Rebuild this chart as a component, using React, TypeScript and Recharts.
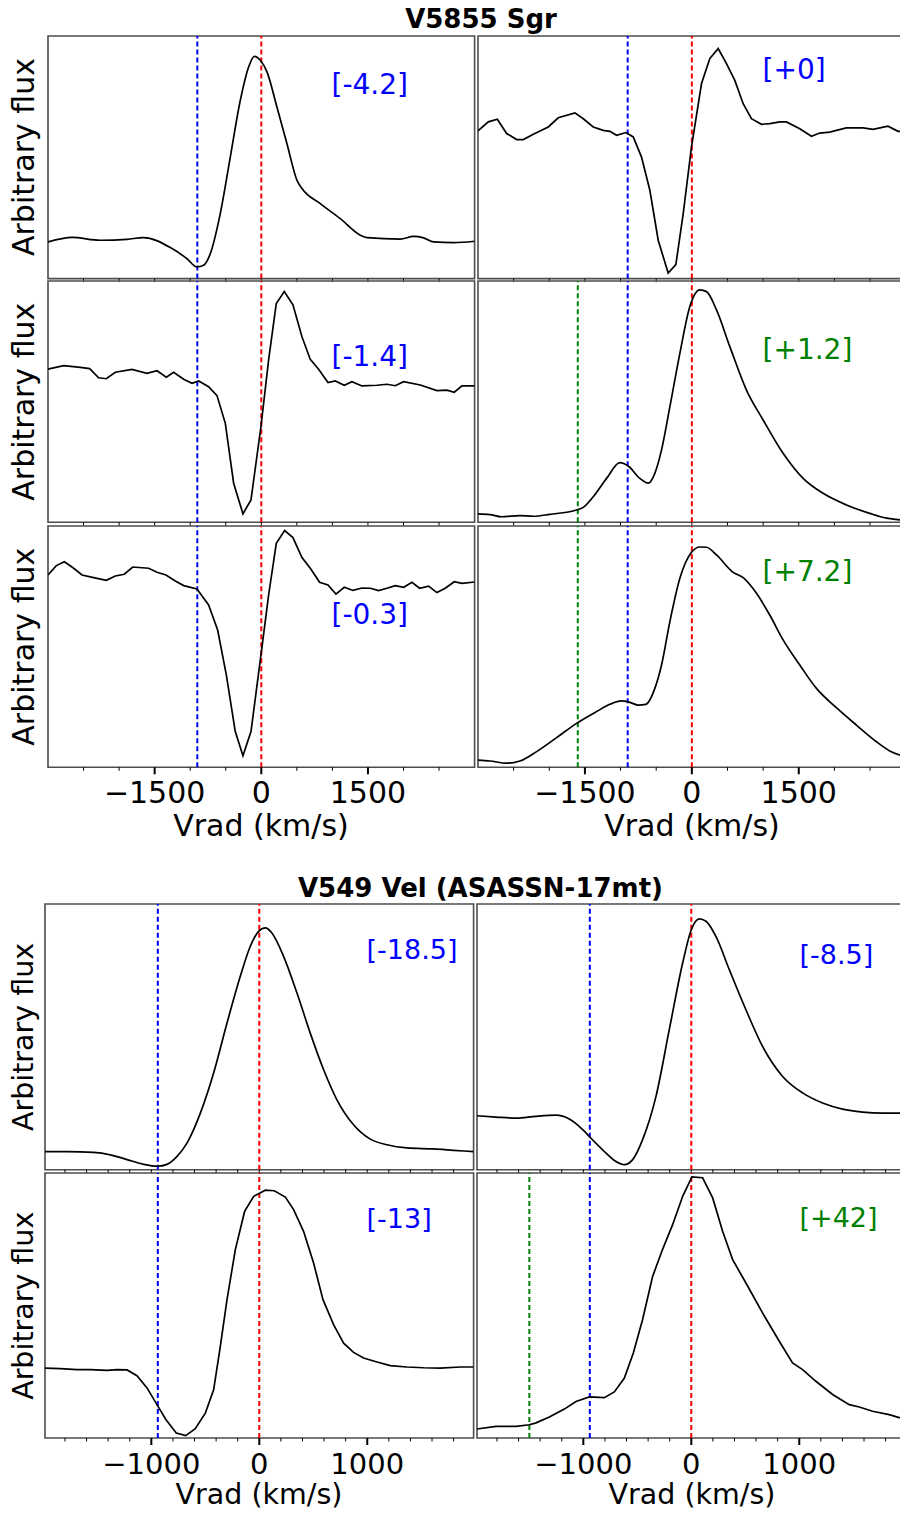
import React from 'react';
import { LineChart, Line, XAxis, YAxis, ReferenceLine, ReferenceArea } from 'recharts';

// ---- V5855 Sgr (velocity km/s, flux in % of panel range) ----
const velA = [-3000, -2663, -2264, -1889, -1655, -1280, -1045, -905, -811, -717, -577, -436, -295, -178, -98, -14, 80, 220, 361, 502, 572, 830, 1111, 1392, 1486, 1955, 2142, 2283, 2423, 2705, 3000];
const fluxA = [15.1, 17.0, 15.8, 16.2, 16.9, 12.8, 8.2, 4.8, 5.5, 10.3, 26.8, 50.1, 73.5, 87.2, 91.6, 90.0, 85.2, 70.7, 55.6, 40.5, 37.1, 30.9, 24.7, 17.9, 16.9, 16.3, 17.4, 16.8, 15.1, 14.8, 15.4];

const velB = [-3000, -2855, -2729, -2598, -2458, -2364, -2224, -2014, -1874, -1640, -1523, -1383, -1243, -1150, -1056, -925, -822, -706, -589, -472, -332, -224, -121, -5, 136, 252, 369, 486, 603, 720, 836, 977, 1093, 1234, 1327, 1514, 1678, 1794, 1935, 2028, 2168, 2402, 2542, 2752, 2893, 3000];
const fluxB = [60.9, 64.6, 65.7, 59.8, 57.3, 57.3, 59.5, 62.5, 66.3, 68.3, 65.9, 62.5, 61.1, 60.7, 59.1, 60.2, 58.4, 50.1, 36.4, 15.8, 2.3, 5.8, 26.8, 54.3, 80.4, 90.7, 94.8, 88.6, 81.7, 72.1, 65.9, 63.6, 63.9, 64.6, 64.6, 61.8, 58.7, 60.0, 60.4, 61.1, 62.1, 62.1, 61.5, 62.8, 60.7, 60.5];

const velC = [-3000, -2780, -2545, -2414, -2288, -2180, -2053, -1819, -1608, -1467, -1336, -1233, -1092, -975, -881, -741, -623, -506, -389, -258, -145, -5, 103, 211, 323, 445, 572, 689, 806, 938, 1041, 1167, 1275, 1416, 1627, 1767, 1884, 2002, 2236, 2470, 2611, 2714, 2822, 3000];
const fluxC = [63.5, 64.9, 64.2, 63.7, 59.9, 59.5, 62.2, 63.4, 61.7, 62.8, 60.1, 62.2, 59.3, 57.6, 58.6, 56.2, 52.5, 41.0, 16.2, 3.5, 9.3, 39.6, 67.3, 90.7, 95.6, 90.1, 76.9, 67.5, 63.4, 57.9, 58.6, 56.8, 58.3, 56.5, 56.8, 57.2, 56.6, 58.3, 56.9, 54.6, 54.8, 53.9, 56.5, 56.5];

const velD = [-3000, -2832, -2668, -2411, -2224, -1991, -1617, -1523, -1383, -1196, -1009, -893, -729, -612, -519, -425, -308, -168, -28, 112, 206, 346, 533, 766, 1000, 1280, 1561, 1841, 2168, 2495, 2729, 2916, 3000];
const fluxD = [3.5, 3.2, 2.3, 2.8, 2.5, 3.3, 5.1, 6.2, 10.6, 18.2, 24.7, 23.3, 18.2, 16.2, 20.3, 30.0, 47.9, 70.0, 89.4, 96.3, 95.6, 88.0, 72.8, 54.8, 42.4, 28.6, 18.2, 12.0, 7.2, 3.7, 1.7, 1.0, 0.7];

const velE = [-3000, -2883, -2770, -2648, -2522, -2358, -2180, -2053, -1927, -1809, -1584, -1467, -1341, -1209, -1092, -905, -741, -614, -492, -366, -258, -145, -5, 103, 211, 328, 445, 572, 689, 820, 938, 1050, 1167, 1289, 1416, 1533, 1650, 1767, 1884, 2002, 2119, 2227, 2353, 2470, 2587, 2714, 2822, 3000];
const fluxE = [79.7, 83.6, 85.2, 82.7, 79.7, 78.6, 77.5, 79.3, 80.0, 83.0, 82.5, 80.8, 79.7, 77.2, 75.3, 73.9, 67.3, 56.9, 38.3, 14.8, 4.8, 14.8, 46.5, 71.4, 92.8, 98.1, 95.2, 86.9, 82.5, 76.7, 75.6, 71.8, 74.6, 73.3, 74.3, 74.2, 73.2, 74.2, 75.3, 74.6, 76.7, 74.2, 75.1, 72.4, 74.2, 76.9, 76.2, 76.8];

const velF = [-3000, -2832, -2598, -2411, -2178, -1897, -1617, -1336, -1150, -986, -869, -752, -645, -519, -425, -308, -168, -5, 112, 206, 346, 579, 720, 907, 1093, 1280, 1514, 1748, 2028, 2308, 2589, 2776, 2916, 3000];
const fluxF = [3.0, 2.6, 1.7, 2.6, 6.5, 12.3, 18.2, 23.1, 26.1, 27.5, 26.9, 25.8, 26.1, 32.7, 42.4, 60.4, 78.3, 89.1, 91.3, 91.2, 88.0, 80.8, 78.6, 72.1, 63.1, 52.8, 42.4, 32.7, 24.7, 17.5, 10.6, 6.8, 5.1, 4.4];

// ---- V549 Vel (ASASSN-17mt) ----
const velG = [-1985, -1781, -1534, -1380, -1225, -1071, -941, -855, -762, -670, -546, -423, -299, -176, -83, -6, 56, 117, 225, 349, 472, 596, 719, 873, 1028, 1182, 1367, 1614, 1799, 1985];
const fluxG = [6.8, 6.8, 6.5, 5.6, 3.8, 2.0, 1.3, 2.0, 5.0, 10.0, 21.3, 36.4, 55.2, 72.8, 84.1, 89.7, 91.0, 89.1, 80.3, 66.5, 51.4, 37.6, 26.3, 16.9, 11.5, 9.4, 8.2, 7.8, 7.3, 6.8];

const velH = [-1985, -1809, -1623, -1438, -1253, -1130, -1006, -938, -821, -698, -620, -543, -451, -327, -204, -80, 0, 74, 136, 228, 352, 506, 660, 846, 1031, 1216, 1401, 1586, 1772, 1926, 1985];
const fluxH = [20.3, 19.8, 19.4, 20.1, 20.5, 19.1, 15.1, 12.2, 7.5, 3.1, 1.9, 3.8, 11.3, 27.6, 52.7, 77.8, 90.3, 94.4, 93.5, 87.8, 75.3, 60.2, 46.4, 35.1, 28.9, 25.1, 22.8, 21.7, 21.3, 21.3, 21.3];

const velI = [-1985, -1843, -1688, -1565, -1410, -1318, -1225, -1133, -1040, -948, -864, -769, -682, -593, -500, -423, -361, -299, -222, -136, -52, 56, 139, 241, 318, 410, 503, 590, 688, 781, 873, 966, 1090, 1213, 1367, 1522, 1676, 1861, 1985];
const fluxI = [26.4, 26.2, 25.8, 25.8, 25.5, 25.8, 25.7, 23.5, 18.9, 12.6, 6.9, 1.9, 0.9, 3.5, 9.4, 18.2, 34.6, 52.2, 71.1, 85.5, 91.2, 93.5, 93.3, 90.9, 86.2, 78.0, 66.0, 52.2, 42.8, 35.8, 32.3, 30.2, 28.7, 27.3, 26.8, 26.5, 26.4, 26.8, 26.8];

const velJ = [-1985, -1809, -1623, -1500, -1438, -1315, -1176, -1068, -944, -806, -713, -620, -537, -451, -358, -265, -173, -80, 6, 105, 198, 290, 383, 506, 660, 815, 938, 1031, 1154, 1309, 1463, 1556, 1679, 1833, 1926, 1985];
const fluxJ = [3.4, 4.4, 4.4, 5.0, 5.7, 7.9, 10.9, 13.8, 15.5, 15.2, 17.4, 22.6, 32.1, 44.7, 61.0, 71.3, 80.5, 91.2, 98.5, 98.2, 90.6, 78.0, 67.3, 58.5, 47.2, 36.5, 28.3, 25.8, 21.4, 16.4, 12.6, 11.7, 10.1, 8.8, 7.7, 7.2];

// axis ticks
const sgrTicks = [-2500, -2000, -1500, -1000, -500, 0, 500, 1000, 1500, 2000, 2500];
const sgrMajor = [-1500, 0, 1500];
const velTicks = [-1800, -1600, -1400, -1200, -1000, -800, -600, -400, -200, 0, 200, 400, 600, 800, 1000, 1200, 1400, 1600, 1800];
const velMajor = [-1000, 0, 1000];

// day labels
const sgrDays = ['[-4.2]', '[+0]', '[-1.4]', '[+1.2]', '[-0.3]', '[+7.2]'];
const velDays = ['[-18.5]', '[-8.5]', '[-13]', '[+42]'];

const BLUE = '#0000ff';
const GREEN = '#008000';
const RED = '#ff0000';
const FONT = 'DejaVu Sans, sans-serif';

const ML = 12;
const MT = 2;
const MR = 2;

const fmt = (v: number) => (v < 0 ? '\u2212' + Math.abs(v) : String(v));

const makeXTick = (major: number[], showLabels: boolean, fontSize: number) => (props: any) => {
  const { x, y, payload } = props;
  const isMajor = showLabels && major.includes(payload.value);
  return (
    <g>
      <line x1={x} x2={x} y1={y} y2={y + (isMajor ? 7 : 3.5)} stroke="#000" strokeWidth={isMajor ? 2 : 1} />
      {isMajor && (
        <text x={x} y={y + 36} textAnchor="middle" fontSize={fontSize} fontFamily={FONT} fill="#000">
          {fmt(payload.value)}
        </text>
      )}
    </g>
  );
};

const yTick = (props: any) => (
  <line x1={props.x - 4} x2={props.x} y1={props.y} y2={props.y} stroke="#000" strokeWidth={1} />
);

type PanelCfg = {
  id: string;
  vel: number[];
  flux: number[];
  left: number;
  top: number;
  width: number;
  height: number;
  domain: [number, number];
  ticks: number[];
  major: number[];
  showLabels: boolean;
  tickFont: number;
  yTicks: number[];
  blue: number;
  green?: number;
  curve: 'linear' | 'monotone';
};

const sgrRows = [
  { top: 35.7, height: 242.6 },
  { top: 281, height: 241.3 },
  { top: 526, height: 241.3 },
];
const velRows = [
  { top: 904.3, height: 265.7 },
  { top: 1173.3, height: 265 },
];

const sgrBase = { domain: [-3000, 3000] as [number, number], ticks: sgrTicks, major: sgrMajor, tickFont: 30, blue: -900 };
const velBase = { domain: [-1985, 1985] as [number, number], ticks: velTicks, major: velMajor, tickFont: 29, blue: -940 };

const panels: PanelCfg[] = [
  { ...sgrBase, id: 'A', vel: velA, flux: fluxA, left: 47.7, width: 426.6, ...sgrRows[0], showLabels: false, yTicks: [], curve: 'monotone' },
  { ...sgrBase, id: 'B', vel: velB, flux: fluxB, left: 478, width: 427.7, ...sgrRows[0], showLabels: false, yTicks: [15.5, 61.1], curve: 'linear' },
  { ...sgrBase, id: 'C', vel: velC, flux: fluxC, left: 47.7, width: 426.6, ...sgrRows[1], showLabels: false, yTicks: [], curve: 'linear' },
  { ...sgrBase, id: 'D', vel: velD, flux: fluxD, left: 478, width: 427.7, ...sgrRows[1], showLabels: false, yTicks: [3.0, 56.5], green: -1600, curve: 'monotone' },
  { ...sgrBase, id: 'E', vel: velE, flux: fluxE, left: 47.7, width: 426.6, ...sgrRows[2], showLabels: true, yTicks: [], curve: 'linear' },
  { ...sgrBase, id: 'F', vel: velF, flux: fluxF, left: 478, width: 427.7, ...sgrRows[2], showLabels: true, yTicks: [3.0, 76.9], green: -1600, curve: 'monotone' },
  { ...velBase, id: 'G', vel: velG, flux: fluxG, left: 44.7, width: 428.6, ...velRows[0], showLabels: false, yTicks: [], curve: 'monotone' },
  { ...velBase, id: 'H', vel: velH, flux: fluxH, left: 477.3, width: 428.6, ...velRows[0], showLabels: false, yTicks: [6.9, 20.3], curve: 'monotone' },
  { ...velBase, id: 'I', vel: velI, flux: fluxI, left: 44.7, width: 428.6, ...velRows[1], showLabels: true, yTicks: [], curve: 'linear' },
  { ...velBase, id: 'J', vel: velJ, flux: fluxJ, left: 477.3, width: 428.6, ...velRows[1], showLabels: true, yTicks: [3.4, 26.8], green: -1500, curve: 'linear' },
];

const dash = { strokeDasharray: '5 3', strokeWidth: 2 };

function Panel({ p }: { p: PanelCfg }) {
  const data = p.vel.map((v, i) => ({ v, f: p.flux[i] }));
  const axisH = p.showLabels ? 48 : 8;
  return (
    <div style={{ position: 'absolute', left: p.left - ML, top: p.top - MT }}>
      <LineChart
        width={p.width + ML + MR}
        height={p.height + MT + axisH}
        data={data}
        margin={{ top: MT, right: MR, bottom: 0, left: ML }}
      >
        <XAxis
          type="number"
          dataKey="v"
          domain={p.domain}
          allowDataOverflow
          ticks={p.ticks}
          interval={0}
          height={axisH}
          tickSize={0}
          tickMargin={0}
          axisLine={false}
          tickLine={false}
          tick={makeXTick(p.major, p.showLabels, p.tickFont)}
        />
        <YAxis
          type="number"
          domain={[0, 100]}
          allowDataOverflow
          width={0}
          hide={p.yTicks.length === 0}
          ticks={p.yTicks.length ? p.yTicks : undefined}
          interval={0}
          tickSize={0}
          tickMargin={0}
          axisLine={false}
          tickLine={false}
          tick={yTick}
        />
        <ReferenceArea x1={p.domain[0]} x2={p.domain[1]} y1={0} y2={100} fill="none" stroke="#4d4d4d" strokeWidth={1.6} />
        {p.green !== undefined && <ReferenceLine x={p.green} stroke={GREEN} {...dash} />}
        <ReferenceLine x={p.blue} stroke={BLUE} {...dash} />
        <ReferenceLine x={0} stroke={RED} {...dash} />
        <Line
          type={p.curve}
          dataKey="f"
          stroke="#000"
          strokeWidth={1.7}
          dot={false}
          isAnimationActive={false}
        />
      </LineChart>
    </div>
  );
}

const dayPos = [
  { x: 331.5, y: 93.5 },
  { x: 762.5, y: 78.5 },
  { x: 331.5, y: 366 },
  { x: 762.5, y: 358.5 },
  { x: 331.5, y: 624 },
  { x: 762.5, y: 580.5 },
];
const velDayPos = [
  { x: 366.5, y: 959 },
  { x: 799.5, y: 963.5 },
  { x: 366.5, y: 1228 },
  { x: 799.5, y: 1227 },
];

export default function App() {
  return (
    <div
      style={{
        position: 'absolute',
        left: 0,
        top: 0,
        width: 900,
        height: 1514,
        overflow: 'hidden',
        background: '#fff',
        fontFamily: FONT,
      }}
    >
      {panels.map((p) => (
        <Panel key={p.id} p={p} />
      ))}
      <svg width={900} height={1514} style={{ position: 'absolute', left: 0, top: 0, pointerEvents: 'none' }} fontFamily={FONT}>
        <text x={481} y={27.5} textAnchor="middle" fontSize={26} fontWeight="bold">V5855 Sgr</text>
        <text x={480.5} y={897} textAnchor="middle" fontSize={26} fontWeight="bold">V549 Vel (ASASSN-17mt)</text>

        {[157, 401.7, 646.7].map((cy) => (
          <text key={cy} x={34} y={cy} transform={`rotate(-90 34 ${cy})`} textAnchor="middle" fontSize={30}>Arbitrary flux</text>
        ))}
        {[1037, 1305.8].map((cy) => (
          <text key={cy} x={33} y={cy} transform={`rotate(-90 33 ${cy})`} textAnchor="middle" fontSize={28.5}>Arbitrary flux</text>
        ))}

        <text x={261} y={836} textAnchor="middle" fontSize={30}>Vrad (km/s)</text>
        <text x={692} y={836} textAnchor="middle" fontSize={30}>Vrad (km/s)</text>
        <text x={259} y={1504} textAnchor="middle" fontSize={28.5}>Vrad (km/s)</text>
        <text x={692} y={1504} textAnchor="middle" fontSize={28.5}>Vrad (km/s)</text>

        {sgrDays.map((d, i) => (
          <text key={d} x={dayPos[i].x} y={dayPos[i].y} fontSize={28} fill={d.startsWith('[-') || d === '[+0]' ? BLUE : GREEN}>{d}</text>
        ))}
        {velDays.map((d, i) => (
          <text key={d} x={velDayPos[i].x} y={velDayPos[i].y} fontSize={27} fill={d.startsWith('[-') ? BLUE : GREEN}>{d}</text>
        ))}
      </svg>
    </div>
  );
}
